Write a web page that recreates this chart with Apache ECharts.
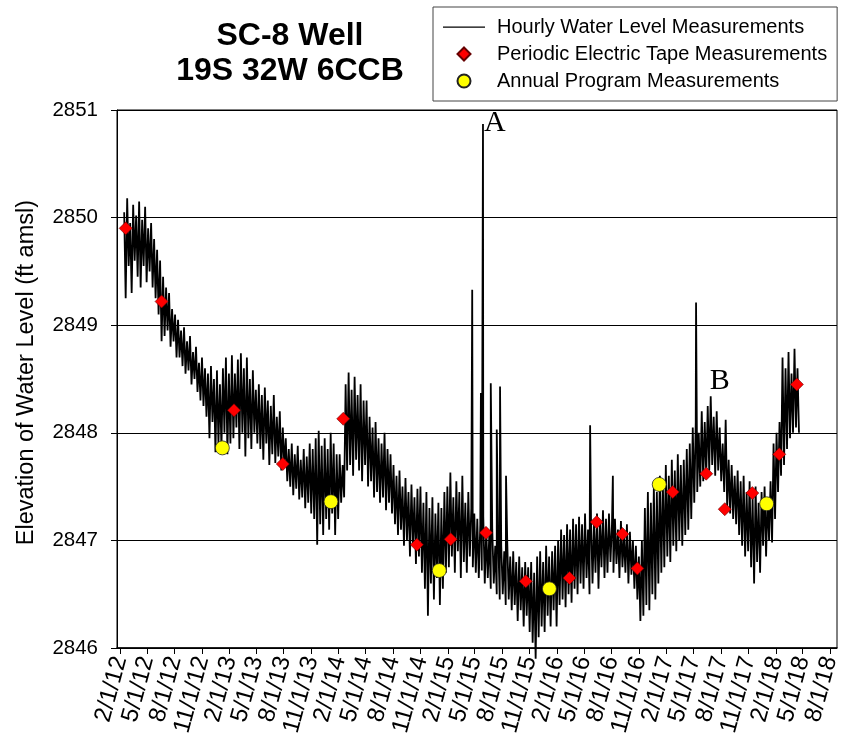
<!DOCTYPE html>
<html>
<head>
<meta charset="utf-8">
<script src="https://cdn.jsdelivr.net/npm/echarts@6/dist/echarts.min.js"></script>
<style>
  html, body { margin: 0; background: #fff; }
  #chart { width: 845px; height: 740px; }
</style>
</head>
<body>
<div id="chart"></div>
<script>
/* Tick labels on the date axis (every 3 months) */
const TICK_LABELS = ['2/1/12', '5/1/12', '8/1/12', '11/1/12', '2/1/13', '5/1/13', '8/1/13', '11/1/13',
  '2/1/14', '5/1/14', '8/1/14', '11/1/14', '2/1/15', '5/1/15', '8/1/15', '11/1/15',
  '2/1/16', '5/1/16', '8/1/16', '11/1/16', '2/1/17', '5/1/17', '8/1/17', '11/1/17',
  '2/1/18', '5/1/18', '8/1/18']

/* Hourly record, read off the picture as the top / bottom of the noise band,
   one pair every 10 days starting 2/15/12 (bottom value 5 days after top) */
const TRACE_START = '2/15/12'
const TRACE_STEP = 10
const TRACE_HI = [
  2850.05, 2850.18, 2849.95, 2850.12, 2850.02, 2850.15, 2849.98, 2850.10, 2849.90,
  2849.95, 2849.80, 2849.70, 2849.60, 2849.45, 2849.35, 2849.30, 2849.15, 2849.10,
  2849.05, 2848.95, 2848.98, 2848.85, 2848.90, 2848.75, 2848.80, 2848.65, 2848.70,
  2848.60, 2848.55, 2848.62, 2848.50, 2848.58, 2848.45, 2848.60, 2848.70, 2848.55,
  2848.72, 2848.55, 2848.68, 2848.74, 2848.60, 2848.70, 2848.50, 2848.58, 2848.40,
  2848.45, 2848.35, 2848.42, 2848.30, 2848.25, 2848.35, 2848.15, 2848.20, 2848.05,
  2847.95, 2847.85, 2847.90, 2847.80, 2847.88, 2847.75, 2847.85, 2847.78, 2847.90,
  2847.85, 2847.95, 2848.02, 2847.88, 2847.95, 2847.85, 2848.00, 2847.90, 2847.80,
  2847.80, 2847.70, 2848.45, 2848.56, 2848.40, 2848.52, 2848.35, 2848.45, 2848.30,
  2848.30, 2848.15, 2848.05, 2848.10, 2847.95, 2847.90, 2848.00, 2847.85, 2847.80,
  2847.70, 2847.60, 2847.65, 2847.50, 2847.58, 2847.45, 2847.52, 2847.40, 2847.48,
  2847.50, 2847.35, 2847.45, 2847.30, 2847.40, 2847.25, 2847.35, 2847.30, 2847.45,
  2847.50, 2847.63, 2847.40, 2847.55, 2847.45, 2847.60, 2847.35, 2847.45, 2847.30,
  2847.25, 2847.20, 2847.15, 2847.22, 2847.10, 2847.05, 2847.10, 2846.95, 2847.00,
  2846.95, 2846.90, 2847.00, 2846.85, 2846.90, 2846.80, 2846.85, 2846.75, 2846.80,
  2846.75, 2846.80, 2846.70, 2846.85, 2846.90, 2846.80, 2846.95, 2846.85, 2846.90,
  2846.95, 2847.00, 2847.10, 2847.05, 2847.15, 2847.10, 2847.20, 2847.15, 2847.22,
  2847.15, 2847.25, 2847.10, 2847.20, 2847.15, 2847.25, 2847.18, 2847.28, 2847.20,
  2847.25, 2847.15, 2847.20, 2847.10, 2847.18, 2847.05, 2847.15, 2847.08, 2847.00,
  2846.95, 2846.85, 2847.00, 2847.30, 2847.45, 2847.35, 2847.50, 2847.45, 2847.60,
  2847.55, 2847.70, 2847.60, 2847.75, 2847.65, 2847.80, 2847.70, 2847.75, 2847.85,
  2847.90, 2848.05, 2848.10, 2848.00, 2848.20, 2848.10, 2848.25, 2848.34, 2848.15,
  2848.20, 2848.05, 2847.90, 2848.12, 2847.75, 2847.70, 2847.60, 2847.65, 2847.55,
  2847.60, 2847.45, 2847.55, 2847.40, 2847.50, 2847.35, 2847.45, 2847.50, 2847.40,
  2847.55, 2847.90, 2848.00, 2848.10, 2848.70, 2848.60, 2848.75, 2848.55, 2848.78,
  2848.60
]
const TRACE_LO = [
  2849.25, 2849.55, 2849.30, 2849.60, 2849.45, 2849.35, 2849.55, 2849.40, 2849.50,
  2849.35, 2849.25, 2849.10, 2848.85, 2848.90, 2848.95, 2848.80, 2848.85, 2848.70,
  2848.70, 2848.62, 2848.55, 2848.58, 2848.45, 2848.50, 2848.38, 2848.30, 2848.25,
  2848.15, 2847.95, 2848.10, 2847.82, 2847.90, 2847.85, 2848.00, 2847.80, 2847.90,
  2847.95, 2848.05, 2847.85, 2848.00, 2847.78, 2847.95, 2847.85, 2848.00, 2847.90,
  2847.85, 2847.75, 2847.90, 2847.70, 2847.80, 2847.72, 2847.78, 2847.65, 2847.70,
  2847.55, 2847.50, 2847.42, 2847.48, 2847.38, 2847.40, 2847.30, 2847.35, 2847.25,
  2847.20, 2846.96, 2847.15, 2847.05, 2847.20, 2847.10, 2847.25, 2847.05, 2847.20,
  2847.35, 2847.40, 2847.65, 2847.70, 2847.60, 2847.75, 2847.65, 2847.55, 2847.70,
  2847.50, 2847.55, 2847.40, 2847.45, 2847.35, 2847.40, 2847.28, 2847.35, 2847.25,
  2847.15, 2847.05, 2847.10, 2846.95, 2847.00, 2846.85, 2846.95, 2846.78, 2846.85,
  2846.70, 2846.55, 2846.30, 2846.60, 2846.45, 2846.65, 2846.40, 2846.55, 2846.70,
  2846.75, 2846.85, 2846.70, 2846.90, 2846.65, 2846.80, 2846.70, 2846.85, 2846.75,
  2846.70, 2846.65, 2846.72, 2846.60, 2846.65, 2846.55, 2846.60, 2846.50, 2846.45,
  2846.50, 2846.40, 2846.45, 2846.35, 2846.40, 2846.25, 2846.35, 2846.20, 2846.30,
  2846.15, 2846.05, 2845.90, 2846.10, 2846.20, 2846.15, 2846.30, 2846.20, 2846.35,
  2846.20, 2846.40, 2846.45, 2846.38, 2846.50, 2846.42, 2846.55, 2846.50, 2846.60,
  2846.55, 2846.65, 2846.50, 2846.60, 2846.70, 2846.55, 2846.75, 2846.65, 2846.70,
  2846.80, 2846.70, 2846.78, 2846.65, 2846.75, 2846.70, 2846.60, 2846.68, 2846.55,
  2846.45, 2846.25, 2846.30, 2846.40, 2846.35, 2846.50, 2846.45, 2846.60, 2846.70,
  2846.75, 2846.85, 2846.80, 2846.95, 2846.90, 2847.00, 2846.95, 2847.05, 2847.10,
  2847.20, 2847.35, 2847.45, 2847.50, 2847.55, 2847.60, 2847.65, 2847.70, 2847.60,
  2847.65, 2847.55, 2847.45, 2847.30, 2847.25, 2847.20, 2847.15, 2847.05, 2846.95,
  2846.85, 2846.90, 2846.75, 2846.60, 2846.80, 2846.70, 2846.95, 2846.85, 2847.00,
  2846.98, 2847.20, 2847.45, 2847.60, 2847.70, 2847.85, 2847.95, 2848.00, 2848.05,
  2848.00
]

/* Short spikes in the hourly record */
const SPIKE_DATES = ['4/23/15', '5/22/15', '5/29/15', '6/24/15', '7/14/15', '7/25/15', '8/14/15', '5/21/16', '8/5/16', '5/10/17']
const SPIKE_VALUES = [2849.33, 2848.37, 2850.87, 2848.46, 2848.03, 2848.43, 2847.60, 2848.07, 2847.60, 2849.21]

/* Periodic electric tape measurements */
const TAPE_DATES = ['2/20/12', '6/19/12', '2/16/13', '7/29/13', '2/16/14', '10/20/14', '2/10/15', '6/8/15',
  '10/19/15', '3/13/16', '6/12/16', '9/6/16', '10/26/16', '2/21/17', '6/13/17', '8/14/17', '11/14/17',
  '2/12/18', '4/12/18']
const TAPE_VALUES = [2849.90, 2849.22, 2848.21, 2847.71, 2848.13, 2846.96, 2847.01, 2847.07,
  2846.62, 2846.65, 2847.17, 2847.06, 2846.74, 2847.45, 2847.62, 2847.29, 2847.44,
  2847.80, 2848.45]

/* Annual program measurements */
const ANNUAL_DATES = ['1/8/13', '1/6/14', '1/3/15', '1/6/16', '1/7/17', '1/1/18']
const ANNUAL_VALUES = [2847.86, 2847.36, 2846.72, 2846.55, 2847.52, 2847.34]

/* Annotation letters */
const NOTE_TEXT = ['A', 'B']
const NOTE_DATES = ['7/8/15', '7/28/17']
const NOTE_VALUES = [2850.88, 2848.48]

const DAY = 86400000
const parseDate = s => { const [m, d, y] = s.split('/').map(Number); return Date.UTC(2000 + y, m - 1, d) }
const tickTimes = TICK_LABELS.map(parseDate)
const tickMap = new Map(tickTimes.map((t, i) => [t, TICK_LABELS[i]]))

const hourly = []
const t0 = parseDate(TRACE_START)
TRACE_HI.forEach((v, i) => {
  hourly.push([t0 + i * TRACE_STEP * DAY, v])
  hourly.push([t0 + (i + 0.5) * TRACE_STEP * DAY, TRACE_LO[i]])
})
SPIKE_DATES.forEach((s, i) => hourly.push([parseDate(s), SPIKE_VALUES[i]]))
hourly.sort((a, b) => a[0] - b[0])

const FONT = '"Liberation Sans", Arial, sans-serif'
/* legend icons sized inside a 42x13 box (invisible corner points keep the box) */
const LINE_ICON = 'path://M0,0 M0,6 L42,6 L42,7.2 L0,7.2 Z M42,13'
const DIAMOND_ICON = 'path://M0,0 M21,-0.5 L28,6.5 L21,13.5 L14,6.5 Z M42,13'
const chart = echarts.init(document.getElementById('chart'))

chart.setOption({
  animation: false,
  title: {
    text: 'SC-8 Well\n19S 32W 6CCB',
    left: 290, top: 19, textAlign: 'center', padding: 0,
    textStyle: { fontFamily: FONT, fontSize: 32, fontWeight: 'bold', color: '#000', lineHeight: 35 }
  },
  legend: {
    orient: 'vertical',
    left: 433, top: 7,
    padding: [10, 10, 10, 10],
    borderColor: '#444', borderWidth: 1,
    itemWidth: 42, itemHeight: 13, itemGap: 7,
    symbolKeepAspect: true,
    textStyle: { fontFamily: FONT, fontSize: 20, color: '#000', padding: [0, 0, 0, 7], lineHeight: 20 },
    data: [
      { name: 'Hourly Water Level Measurements', icon: LINE_ICON },
      { name: 'Periodic Electric Tape Measurements', icon: DIAMOND_ICON },
      { name: 'Annual Program Measurements', icon: 'circle' }
    ]
  },
  grid: { left: 117, right: 8, top: 110, bottom: 92, show: true, borderColor: '#000', borderWidth: 1 },
  xAxis: {
    type: 'value',
    min: Date.UTC(2012, 0, 22),
    max: Date.UTC(2018, 7, 24),
    axisLine: { lineStyle: { color: '#000', width: 1.5 } },
    axisTick: { customValues: tickTimes, length: 6, lineStyle: { color: '#000' } },
    axisLabel: {
      customValues: tickTimes,
      rotate: 75, margin: 9,
      fontFamily: FONT, fontSize: 24, color: '#000',
      formatter: v => tickMap.get(v) || ''
    },
    splitLine: { show: false }
  },
  yAxis: {
    type: 'value',
    min: 2846, max: 2851, interval: 1,
    axisLine: { show: true, lineStyle: { color: '#000' } },
    axisTick: { show: true, length: 6, lineStyle: { color: '#000' } },
    axisLabel: { fontFamily: FONT, fontSize: 20.5, color: '#000', margin: 19, formatter: v => String(v) },
    splitLine: { lineStyle: { color: '#000', width: 1 } }
  },
  graphic: [{
    type: 'text', left: 15, top: 200, rotation: Math.PI / 2,
    style: { text: 'Elevation of Water Level (ft amsl)', fontFamily: FONT, fontSize: 23.5, fill: '#000' }
  }],
  series: [
    {
      name: 'Hourly Water Level Measurements',
      type: 'line',
      data: hourly,
      showSymbol: false,
      symbol: 'none',
      clip: false,
      lineStyle: { color: '#000', width: 1.8 },
      itemStyle: { color: '#000' },
      z: 2,
      markPoint: {
        symbol: 'circle', symbolSize: 0,
        label: { show: true, position: 'inside', fontFamily: '"Liberation Serif", "Times New Roman", serif', fontSize: 30, color: '#000', formatter: p => p.name },
        data: NOTE_TEXT.map((n, i) => ({ name: n, coord: [parseDate(NOTE_DATES[i]), NOTE_VALUES[i]] }))
      }
    },
    {
      name: 'Periodic Electric Tape Measurements',
      type: 'scatter',
      symbol: 'diamond', symbolSize: 13,
      itemStyle: { color: '#ff0000', borderColor: '#600', borderWidth: 0.6, opacity: 1 },
      data: TAPE_DATES.map((d, i) => [parseDate(d), TAPE_VALUES[i]]),
      z: 4
    },
    {
      name: 'Annual Program Measurements',
      type: 'scatter',
      symbol: 'circle', symbolSize: 14,
      itemStyle: { color: '#ffff00', borderColor: '#222', borderWidth: 0.8, opacity: 1 },
      data: ANNUAL_DATES.map((d, i) => [parseDate(d), ANNUAL_VALUES[i]]),
      z: 4
    }
  ]
})
</script>
</body>
</html>
